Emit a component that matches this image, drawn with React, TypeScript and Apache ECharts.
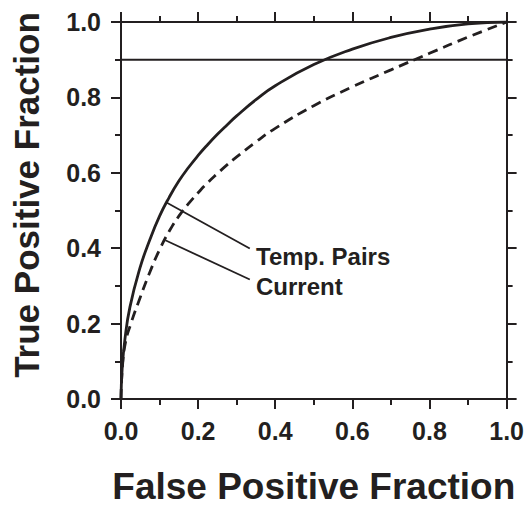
import React, { useEffect, useRef } from "react";
import * as echarts from "echarts";

const xTickLabels = ["0.0", "0.2", "0.4", "0.6", "0.8", "1.0"];
const yTickLabels = ["0.0", "0.2", "0.4", "0.6", "0.8", "1.0"];

const tempPairs: [number, number][] = [
  [0, 0], [0.003, 0.08], [0.010, 0.157], [0.023, 0.243], [0.049, 0.347],
  [0.075, 0.423], [0.10, 0.485], [0.125, 0.535], [0.15, 0.578],
  [0.175, 0.614], [0.2, 0.646], [0.225, 0.675], [0.25, 0.702],
  [0.275, 0.727], [0.3, 0.751], [0.35, 0.794], [0.4, 0.831],
  [0.5, 0.887], [0.6, 0.928], [0.7, 0.959], [0.8, 0.981], [0.9, 0.995], [1, 1],
];

const current: [number, number][] = [
  [0, 0], [0.004, 0.09], [0.012, 0.152], [0.025, 0.198], [0.05, 0.27],
  [0.075, 0.337], [0.10, 0.396], [0.125, 0.445], [0.15, 0.485],
  [0.175, 0.518], [0.2, 0.547], [0.225, 0.574], [0.25, 0.598],
  [0.275, 0.621], [0.3, 0.642], [0.35, 0.682], [0.4, 0.718],
  [0.5, 0.778], [0.6, 0.828], [0.7, 0.873], [0.8, 0.917], [0.9, 0.96], [1, 1],
];

const refLine: [number, number][] = [[0, 0.9], [1, 0.9]];
const pointerTemp: [number, number][] = [[0.118, 0.521], [0.334, 0.399]];
const pointerCurrent: [number, number][] = [[0.115, 0.421], [0.334, 0.317]];
const seriesNames = ["Temp. Pairs", "Current"];
const xTitle = "False Positive Fraction";
const yTitle = "True Positive Fraction";

const INK = "#231f20";
const FONT = "'Liberation Sans', Arial, Helvetica, sans-serif";

export default function App() {
  const ref = useRef<HTMLDivElement>(null);
  useEffect(() => {
    if (!ref.current) return;
    const chart = echarts.init(ref.current, undefined, { renderer: "svg" });
    const axisCommon = {
      min: 0,
      max: 1,
      interval: 0.2,
      axisLine: { show: true, onZero: false, lineStyle: { color: INK, width: 2 } },
      axisTick: { show: true, inside: false, length: 10, lineStyle: { color: INK, width: 2 } },
      minorTick: { show: true, splitNumber: 2, length: 6, lineStyle: { color: INK, width: 2 } },
      splitLine: { show: false },
      minorSplitLine: { show: false },
    };
    const labelStyle = {
      color: INK,
      fontFamily: FONT,
      fontWeight: "bold" as const,
      fontSize: 25,
    };
    chart.setOption({
      animation: false,
      backgroundColor: "#ffffff",
      grid: { left: 121, top: 22, width: 386, height: 385, containLabel: false },
      xAxis: [
        {
          type: "value",
          position: "bottom",
          ...axisCommon,
          axisLabel: {
            ...labelStyle,
            margin: 19,
            formatter: (v: number) => xTickLabels[Math.round(v * 5)] ?? "",
          },
          name: xTitle,
          nameLocation: "middle",
          nameGap: 69,
          nameTextStyle: { color: INK, fontFamily: FONT, fontWeight: "bold", fontSize: 37 },
        },
        {
          type: "value",
          position: "top",
          ...axisCommon,
          axisLabel: { show: false },
        },
      ],
      yAxis: [
        {
          type: "value",
          position: "left",
          ...axisCommon,
          axisLabel: {
            ...labelStyle,
            margin: 20,
            formatter: (v: number) => yTickLabels[Math.round(v * 5)] ?? "",
          },
        },
        {
          type: "value",
          position: "right",
          ...axisCommon,
          axisLabel: { show: false },
        },
      ],
      series: [
        {
          name: "ref",
          type: "line",
          data: refLine,
          symbol: "none",
          silent: true,
          lineStyle: { color: INK, width: 2 },
        },
        {
          name: seriesNames[0],
          type: "line",
          data: tempPairs,
          symbol: "none",
          smooth: 0.5,
          lineStyle: { color: INK, width: 2.8, type: "solid" },
        },
        {
          name: seriesNames[1],
          type: "line",
          data: current,
          symbol: "none",
          smooth: 0.5,
          lineStyle: { color: INK, width: 2.8, type: [10, 6] },
        },
        {
          name: "pointer1",
          type: "line",
          data: pointerTemp,
          symbol: "none",
          silent: true,
          lineStyle: { color: INK, width: 1.8 },
        },
        {
          name: "pointer2",
          type: "line",
          data: pointerCurrent,
          symbol: "none",
          silent: true,
          lineStyle: { color: INK, width: 1.8 },
        },
      ],
      graphic: [
        {
          type: "text",
          x: 26,
          y: 195,
          rotation: Math.PI / 2,
          style: {
            text: yTitle,
            fill: INK,
            font: `bold 35px ${FONT}`,
            align: "center",
            verticalAlign: "middle",
          },
        },
        {
          type: "text",
          left: 256,
          top: 244,
          style: { text: seriesNames[0], fill: INK, font: `bold 24px ${FONT}` },
        },
        {
          type: "text",
          left: 256,
          top: 274,
          style: { text: seriesNames[1], fill: INK, font: `bold 24px ${FONT}` },
        },
      ],
    });
    return () => chart.dispose();
  }, []);
  return (
    <div
      ref={ref}
      style={{ position: "fixed", left: 0, top: 0, width: 527, height: 510, background: "#fff" }}
    />
  );
}
